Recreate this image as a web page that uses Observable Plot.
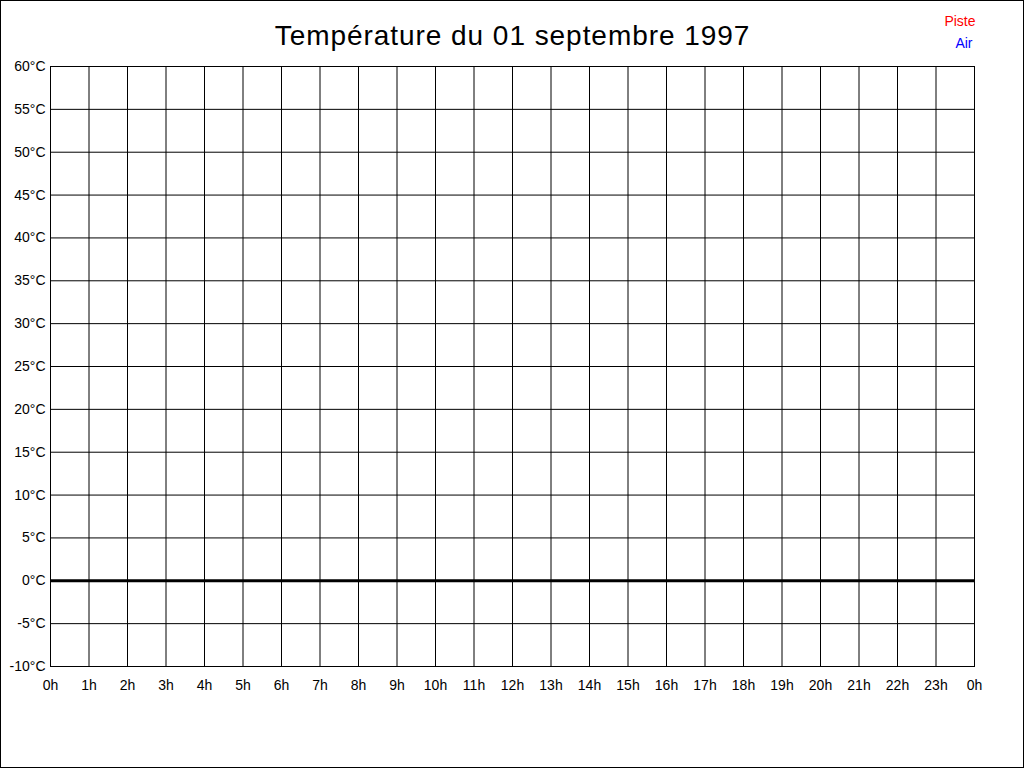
<!DOCTYPE html>
<html>
<head>
<meta charset="utf-8">
<script src="https://cdn.jsdelivr.net/npm/d3@7"></script>
<script src="https://cdn.jsdelivr.net/npm/@observablehq/plot@0.6"></script>
<style>
  html, body { margin: 0; padding: 0; background: #fff; }
  #wrap { position: relative; width: 1024px; height: 768px; overflow: hidden; }
  #wrap svg { position: absolute; left: 0; top: 0; }
  #border { position: absolute; left: 0; top: 0; width: 1024px; height: 768px; box-sizing: border-box; border: 1px solid #000; pointer-events: none; }
</style>
</head>
<body>
<div id="wrap"><div id="border"></div></div>
<script>
// Chart data
const title = "Température du 01 septembre 1997";
const hours = d3.range(0, 25);            // 0h .. 24h (shown as 0h)
const hourLabels = hours.map(h => `${h % 24}h`);
const temps = d3.range(-10, 61, 5);       // -10°C .. 60°C
const tempLabels = temps.map(t => `${t}°C`);
const seriesNames = ["Piste", "Air"];
const seriesColors = ["#ff0000", "#0000ff"];
// No measurements recorded for this day
const pisteValues = [];
const airValues = [];

const font = "'Liberation Sans', Arial, sans-serif";

const legend = seriesNames.map((name, i) =>
  Plot.text([name], {
    text: d => d, fill: seriesColors[i], frameAnchor: "top-right",
    dx: i === 0 ? 1 : -2, dy: -50 + i * 22, fontSize: 14, lineAnchor: "top"
  })
);

const chart = Plot.plot({
  width: 1024,
  height: 768,
  marginLeft: 50,
  marginRight: 50,
  marginTop: 66,
  marginBottom: 102,
  style: { fontFamily: font, background: "transparent", color: "#000" },
  x: { domain: [0, 24], label: null },
  y: { domain: [-10, 60], label: null },
  marks: [
    Plot.gridX(hours, { stroke: "#000", strokeOpacity: 1, strokeWidth: 1 }),
    Plot.gridY(temps, { stroke: "#000", strokeOpacity: 1, strokeWidth: 1 }),
    Plot.frame({ stroke: "#000", strokeWidth: 1 }),
    Plot.ruleY([0], { stroke: "#000", strokeWidth: 3 }),
    Plot.lineY(pisteValues, { x: "hour", y: "value", stroke: seriesColors[0] }),
    Plot.lineY(airValues, { x: "hour", y: "value", stroke: seriesColors[1] }),
    Plot.axisX(hours, {
      tickFormat: (d, i) => hourLabels[i],
      tickSize: 0, tickPadding: 14, fontSize: 14, fill: "#000"
    }),
    Plot.axisY(temps, {
      tickFormat: (d, i) => tempLabels[i],
      tickSize: 0, tickPadding: 5, fontSize: 14, fill: "#000"
    }),
    Plot.text([title], {
      text: d => d, frameAnchor: "top", dy: -41, fontSize: 28,
      fill: "#000", lineAnchor: "top"
    }),
    ...legend
  ]
});

// widen the title letter spacing to match the reference
d3.select(chart).selectAll("text")
  .filter(function () { return this.textContent === title; })
  .style("letter-spacing", "0.95px");

document.getElementById("wrap").prepend(chart);
</script>
</body>
</html>
